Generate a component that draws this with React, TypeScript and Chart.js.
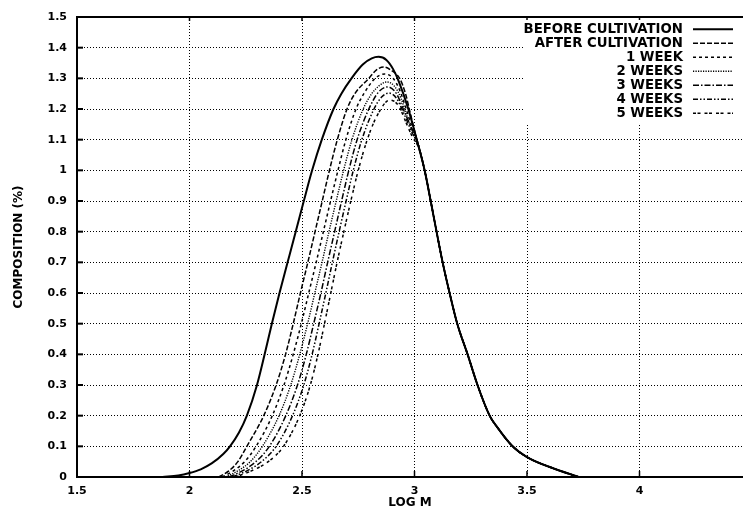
import React, { useEffect, useRef } from "react";
import { Chart, registerables } from "chart.js";

Chart.register(...registerables);

// ---- data ----
const seriesNames = [
  "BEFORE CULTIVATION",
  "AFTER CULTIVATION",
  "1 WEEK",
  "2 WEEKS",
  "3 WEEKS",
  "4 WEEKS",
  "5 WEEKS",
];

const beforeX = [1.88, 1.95, 2.0, 2.05, 2.1, 2.15, 2.18, 2.22, 2.255, 2.3, 2.334, 2.366, 2.4, 2.436, 2.472, 2.508, 2.545, 2.588, 2.64, 2.675, 2.72, 2.77, 2.81, 2.84, 2.875, 2.905, 2.93, 2.97, 3.01];
const beforeY = [0, 0.005, 0.013, 0.025, 0.045, 0.075, 0.1, 0.145, 0.2, 0.3, 0.4, 0.5, 0.6, 0.7, 0.8, 0.9, 1.0, 1.1, 1.2, 1.25, 1.3, 1.345, 1.365, 1.37, 1.36, 1.33, 1.29, 1.206, 1.1];

const afterX = [2.13, 2.175, 2.215, 2.255, 2.33, 2.385, 2.427, 2.461, 2.493, 2.526, 2.558, 2.59, 2.622, 2.657, 2.7, 2.735, 2.797, 2.83, 2.863, 2.895, 2.934, 2.96, 2.98, 3.0];
const afterY = [0, 0.02, 0.05, 0.1, 0.2, 0.3, 0.4, 0.5, 0.6, 0.7, 0.8, 0.9, 1.0, 1.1, 1.2, 1.25, 1.3, 1.327, 1.337, 1.327, 1.3, 1.25, 1.19, 1.13];

const week1X = [2.145, 2.195, 2.245, 2.296, 2.368, 2.42, 2.461, 2.497, 2.53, 2.563, 2.595, 2.627, 2.66, 2.695, 2.74, 2.775, 2.825, 2.868, 2.905, 2.935, 2.963, 2.99, 3.005];
const week1Y = [0, 0.02, 0.05, 0.1, 0.2, 0.3, 0.4, 0.5, 0.6, 0.7, 0.8, 0.9, 1.0, 1.1, 1.2, 1.25, 1.3, 1.314, 1.3, 1.26, 1.2, 1.14, 1.114];

const week2X = [2.16, 2.215, 2.27, 2.324, 2.398, 2.45, 2.49, 2.525, 2.557, 2.589, 2.62, 2.652, 2.685, 2.722, 2.772, 2.81, 2.845, 2.877, 2.91, 2.94, 2.965, 2.99, 3.01];
const week2Y = [0, 0.02, 0.05, 0.1, 0.2, 0.3, 0.4, 0.5, 0.6, 0.7, 0.8, 0.9, 1.0, 1.1, 1.2, 1.25, 1.277, 1.288, 1.275, 1.235, 1.18, 1.13, 1.1];

const week3X = [2.175, 2.235, 2.295, 2.355, 2.428, 2.48, 2.519, 2.552, 2.584, 2.614, 2.645, 2.676, 2.708, 2.745, 2.797, 2.84, 2.88, 2.92, 2.95, 2.985, 3.015];
const week3Y = [0, 0.02, 0.05, 0.1, 0.2, 0.3, 0.4, 0.5, 0.6, 0.7, 0.8, 0.9, 1.0, 1.1, 1.2, 1.255, 1.272, 1.25, 1.2, 1.14, 1.086];

const week4X = [2.19, 2.255, 2.32, 2.385, 2.458, 2.508, 2.545, 2.576, 2.606, 2.635, 2.665, 2.696, 2.728, 2.766, 2.82, 2.855, 2.885, 2.92, 2.95, 2.985, 3.018];
const week4Y = [0, 0.02, 0.05, 0.1, 0.2, 0.3, 0.4, 0.5, 0.6, 0.7, 0.8, 0.9, 1.0, 1.1, 1.2, 1.24, 1.252, 1.235, 1.19, 1.13, 1.077];

const week5X = [2.205, 2.275, 2.35, 2.418, 2.49, 2.537, 2.571, 2.6, 2.628, 2.656, 2.686, 2.717, 2.75, 2.79, 2.835, 2.89, 2.93, 2.96, 2.99, 3.02];
const week5Y = [0, 0.02, 0.05, 0.1, 0.2, 0.3, 0.4, 0.5, 0.6, 0.7, 0.8, 0.9, 1.0, 1.1, 1.18, 1.229, 1.21, 1.16, 1.11, 1.071];

// shared falling side (all curves coincide here)
const tailX = [3.045, 3.072, 3.098, 3.125, 3.156, 3.19, 3.236, 3.28, 3.334, 3.37, 3.436, 3.5, 3.61, 3.73];
const tailY = [1.0, 0.9, 0.8, 0.7, 0.6, 0.5, 0.4, 0.3, 0.2, 0.16, 0.1, 0.065, 0.03, 0];

const xTicks = [1.5, 2, 2.5, 3, 3.5, 4];
const yTicks = [0, 0.1, 0.2, 0.3, 0.4, 0.5, 0.6, 0.7, 0.8, 0.9, 1, 1.1, 1.2, 1.3, 1.4, 1.5];

const riseXs = [beforeX, afterX, week1X, week2X, week3X, week4X, week5X];
const riseYs = [beforeY, afterY, week1Y, week2Y, week3Y, week4Y, week5Y];

// ---- styles ----
const dashes: number[][] = [
  [],
  [5, 2],
  [3, 3],
  [1.2, 1.3],
  [6, 2, 1.5, 2],
  [5, 2, 1.5, 2, 1.5, 2],
  [3, 1.5, 3, 4],
];
const widths = [2, 1.5, 1.5, 1.4, 1.5, 1.5, 1.5];

const FONT = "'DejaVu Sans', sans-serif";

function buildPoints(xs: number[], ys: number[]) {
  const pts = xs.map((x, i) => ({ x, y: ys[i] }));
  return pts.concat(tailX.map((x, i) => ({ x, y: tailY[i] })));
}

const framePlugin = {
  id: "frame",
  afterDraw(chart: any) {
    const { ctx, chartArea } = chart;
    const xs = chart.scales.x;
    const ys = chart.scales.y;
    ctx.save();
    ctx.strokeStyle = "#000";
    // top border
    ctx.lineWidth = 2;
    ctx.beginPath();
    ctx.moveTo(chartArea.left, chartArea.top);
    ctx.lineTo(chartArea.right, chartArea.top);
    ctx.stroke();
    // inward tick marks
    ctx.lineWidth = 2;
    yTicks.forEach((v) => {
      if (v === 0 || v === 1.5) return;
      const py = ys.getPixelForValue(v);
      ctx.beginPath();
      ctx.moveTo(chartArea.left, py);
      ctx.lineTo(chartArea.left + 6, py);
      ctx.stroke();
    });
    ctx.lineWidth = 1.5;
    xTicks.forEach((v) => {
      if (v === 1.5) return;
      const px = xs.getPixelForValue(v);
      ctx.beginPath();
      ctx.moveTo(px, chartArea.bottom);
      ctx.lineTo(px, chartArea.bottom - 6);
      ctx.moveTo(px, chartArea.top);
      ctx.lineTo(px, chartArea.top + 4);
      ctx.stroke();
    });

    // legend box
    ctx.fillStyle = "#fff";
    ctx.fillRect(523, chartArea.top + 3, chart.width - 523, 103);
    ctx.fillStyle = "#000";
    ctx.font = `bold 13.3px ${FONT}`;
    ctx.textAlign = "right";
    ctx.textBaseline = "middle";
    const textRight = 683;
    const lineL = 693;
    const lineR = 733;
    seriesNames.forEach((name, i) => {
      const cy = 29.3 + i * 14;
      ctx.fillText(name, textRight, cy);
      ctx.save();
      ctx.lineWidth = widths[i];
      ctx.setLineDash(dashes[i]);
      ctx.beginPath();
      ctx.moveTo(lineL, cy);
      ctx.lineTo(lineR, cy);
      ctx.stroke();
      ctx.restore();
    });
    ctx.restore();
  },
};

export default function App() {
  const ref = useRef<HTMLCanvasElement | null>(null);

  useEffect(() => {
    if (!ref.current) return;
    const datasets = riseXs.map((xs, i) => ({
      label: seriesNames[i],
      data: buildPoints(xs, riseYs[i]),
      showLine: true,
      borderColor: "#000",
      backgroundColor: "#000",
      borderWidth: widths[i],
      borderDash: dashes[i],
      pointRadius: 0,
      cubicInterpolationMode: "monotone" as const,
      fill: false,
    }));

    const chart = new Chart(ref.current, {
      type: "scatter",
      data: { datasets },
      options: {
        animation: false,
        responsive: false,
        devicePixelRatio: 1,
        layout: { padding: { top: 17, right: 0, left: 0, bottom: 0 } },
        plugins: {
          legend: { display: false },
          tooltip: { enabled: false },
        },
        scales: {
          x: {
            type: "linear",
            min: 1.5,
            max: 4.46,
            afterFit: (s: any) => {
              s.height = 35;
            },
            afterBuildTicks: (s: any) => {
              s.ticks = xTicks.map((v) => ({ value: v }));
            },
            ticks: {
              color: "#000",
              font: { family: FONT, size: 11, weight: "bold" },
              padding: 8,
              maxRotation: 0,
              autoSkip: false,
              callback: (v: any) => String(v),
            },
            grid: {
              drawTicks: false,
              lineWidth: 1,
              color: (ctx: any) =>
                ctx.tick && ctx.tick.value === 1.5 ? "rgba(0,0,0,0)" : "#000",
            },
            border: { display: true, color: "#000", width: 2, dash: [1, 2] },
            title: {
              display: true,
              text: "LOG M",
              color: "#000",
              font: { family: FONT, size: 12, weight: "bold" },
              padding: { top: 0, bottom: 2 },
            },
          },
          y: {
            type: "linear",
            min: 0,
            max: 1.5,
            afterFit: (s: any) => {
              s.width = 77;
            },
            afterBuildTicks: (s: any) => {
              s.ticks = yTicks.map((v) => ({ value: v }));
            },
            ticks: {
              color: "#000",
              font: { family: FONT, size: 11, weight: "bold" },
              padding: 10,
              autoSkip: false,
              callback: (v: any) => String(Math.round(v * 10) / 10),
            },
            grid: {
              drawTicks: false,
              lineWidth: 1,
              color: (ctx: any) =>
                ctx.tick && (ctx.tick.value === 0 || ctx.tick.value === 1.5)
                  ? "rgba(0,0,0,0)"
                  : "#000",
            },
            border: { display: true, color: "#000", width: 2, dash: [1, 2] },
            title: {
              display: true,
              text: "COMPOSITION (%)",
              color: "#000",
              font: { family: FONT, size: 12, weight: "bold" },
              padding: { top: 12, bottom: 0 },
            },
          },
        },
      },
      plugins: [framePlugin],
    });
    return () => chart.destroy();
  }, []);

  return (
    <div style={{ position: "fixed", left: 0, top: 0, width: 743, height: 512, background: "#fff" }}>
      <canvas ref={ref} width={743} height={512} style={{ width: 743, height: 512, display: "block" }} />
    </div>
  );
}
